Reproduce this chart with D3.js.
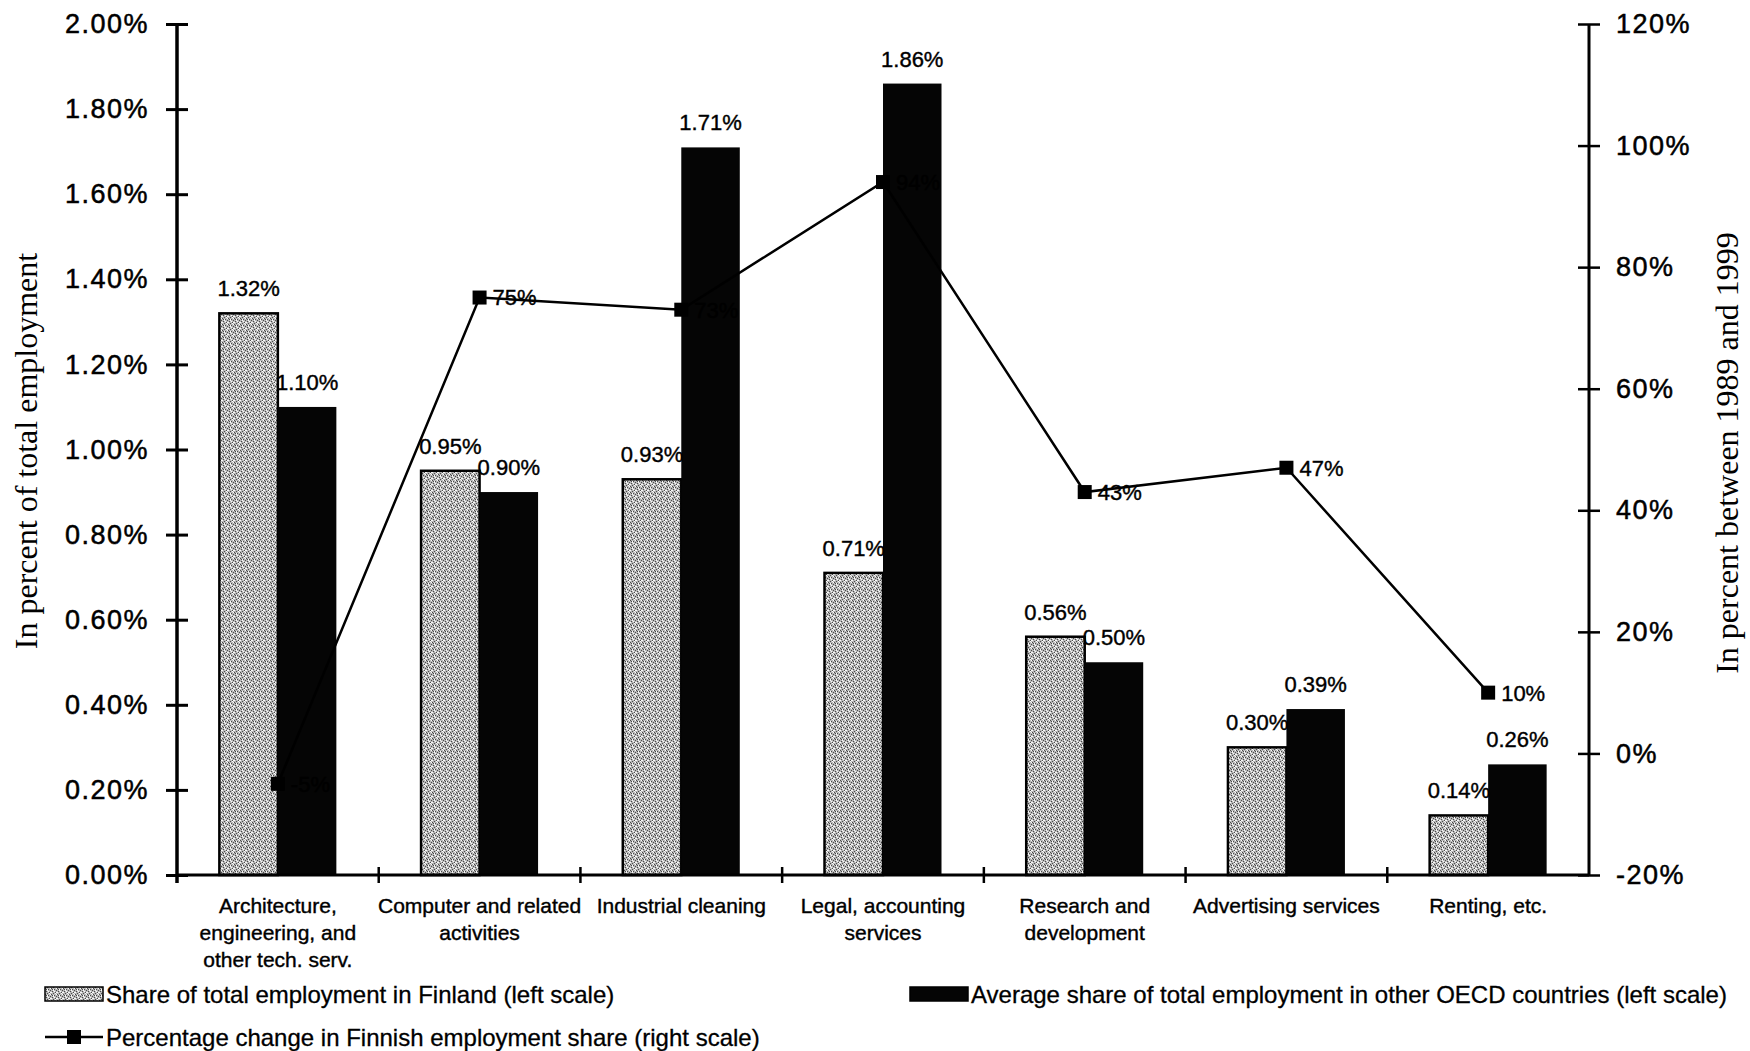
<!DOCTYPE html>
<html>
<head>
<meta charset="utf-8">
<script src="https://cdn.jsdelivr.net/npm/d3@7"></script>
<style>
  body { margin: 0; background: #fff; }
</style>
</head>
<body>
<div id="chart"></div>
<script>
// categories (line breaks marked with |)
var categories = ["Architecture,|engineering, and|other tech. serv.", "Computer and related|activities",
    "Industrial cleaning", "Legal, accounting|services", "Research and|development",
    "Advertising services", "Renting, etc."];
var finland = [1.32, 0.95, 0.93, 0.71, 0.56, 0.30, 0.14];
var oecd = [1.10, 0.90, 1.71, 1.86, 0.50, 0.39, 0.26];
var change = [-5, 75, 73, 94, 43, 47, 10];
var leftTicks = [0, 0.2, 0.4, 0.6, 0.8, 1.0, 1.2, 1.4, 1.6, 1.8, 2.0];
var rightTicks = [-20, 0, 20, 40, 60, 80, 100, 120];

var width = 1750, height = 1051;
var plot = {left: 177, right: 1589, top: 24, bottom: 875};

var svg = d3.select('#chart').append('svg')
    .attr('width', width)
    .attr('height', height)
    .style('font-family', '"Liberation Sans", Arial, sans-serif');

// stippled grey fill for the Finland bars
var pat = svg.append('defs').append('pattern')
    .attr('id', 'stipple')
    .attr('patternUnits', 'userSpaceOnUse')
    .attr('width', 6).attr('height', 6);
pat.append('rect').attr('width', 6).attr('height', 6).attr('fill', '#b8b8b8');
[[0,0],[3,1],[1,3],[4,4],[2,5],[5,2],[1,1]].forEach(function (p) {
    pat.append('rect').attr('x', p[0]).attr('y', p[1]).attr('width', 1).attr('height', 1).attr('fill', '#4a4a4a');
});
[[2,1],[5,0],[0,4],[3,3],[4,5],[2,2],[5,4]].forEach(function (p) {
    pat.append('rect').attr('x', p[0]).attr('y', p[1]).attr('width', 1).attr('height', 1).attr('fill', '#fafafa');
});

var x = d3.scaleBand().domain(d3.range(categories.length)).range([plot.left, plot.right]);
var yL = d3.scaleLinear().domain([0, 2]).range([plot.bottom, plot.top]);
var yR = d3.scaleLinear().domain([-20, 120]).range([plot.bottom, plot.top]);
var bw = x.bandwidth() * 0.29;
var cx = function (i) { return x(i) + x.bandwidth() / 2; };
var fmt = function (v) { return d3.format('.2f')(v) + '%'; };

// bars
svg.selectAll('.fin').data(finland).enter().append('rect')
    .attr('class', 'fin')
    .attr('x', function (d, i) { return cx(i) - bw; })
    .attr('y', function (d) { return yL(d); })
    .attr('width', bw)
    .attr('height', function (d) { return yL(0) - yL(d); })
    .attr('fill', 'url(#stipple)')
    .attr('stroke', '#000')
    .attr('stroke-width', 2.5);

svg.selectAll('.oecd').data(oecd).enter().append('rect')
    .attr('class', 'oecd')
    .attr('x', function (d, i) { return cx(i); })
    .attr('y', function (d) { return yL(d); })
    .attr('width', bw)
    .attr('height', function (d) { return yL(0) - yL(d); })
    .attr('fill', '#050505');

// bar labels
svg.selectAll('.finlab').data(finland).enter().append('text')
    .attr('x', function (d, i) { return cx(i) - bw / 2; })
    .attr('y', function (d) { return yL(d) - 17; })
    .attr('text-anchor', 'middle')
    .attr('font-size', 22)
    .attr('stroke', '#000').attr('stroke-width', 0.4)
    .text(fmt);

svg.selectAll('.oecdlab').data(oecd).enter().append('text')
    .attr('x', function (d, i) { return cx(i) + bw / 2; })
    .attr('y', function (d) { return yL(d) - 17; })
    .attr('text-anchor', 'middle')
    .attr('font-size', 22)
    .attr('stroke', '#000').attr('stroke-width', 0.4)
    .text(fmt);

// left axis
var axL = svg.append('g').attr('transform', 'translate(' + plot.left + ',0)')
    .call(d3.axisLeft(yL).tickValues(leftTicks).tickSize(11).tickPadding(17).tickFormat(fmt));
axL.select('.domain').remove();
axL.selectAll('.tick line').attr('x2', 11).attr('x1', -11).attr('stroke-width', 3);
axL.selectAll('.tick text').attr('font-size', 27).attr('letter-spacing', '1.5px')
    .attr('font-family', '"Liberation Sans", Arial, sans-serif').attr('fill', '#000')
    .attr('stroke', '#000').attr('stroke-width', 0.5);
svg.append('line').attr('x1', plot.left).attr('x2', plot.left).attr('y1', plot.top).attr('y2', plot.bottom + 8)
    .attr('stroke', '#000').attr('stroke-width', 3.5);

// right axis
var axR = svg.append('g').attr('transform', 'translate(' + plot.right + ',0)')
    .call(d3.axisRight(yR).tickValues(rightTicks).tickSize(11).tickPadding(16).tickFormat(function (d) { return d + '%'; }));
axR.select('.domain').remove();
axR.selectAll('.tick line').attr('x1', -11).attr('x2', 11).attr('stroke-width', 2.5);
axR.selectAll('.tick text').attr('font-size', 27).attr('letter-spacing', '1.5px')
    .attr('font-family', '"Liberation Sans", Arial, sans-serif').attr('fill', '#000')
    .attr('stroke', '#000').attr('stroke-width', 0.5);
svg.append('line').attr('x1', plot.right).attr('x2', plot.right).attr('y1', plot.top).attr('y2', plot.bottom)
    .attr('stroke', '#000').attr('stroke-width', 3);

// x axis with ticks between categories
svg.append('line').attr('x1', plot.left).attr('x2', plot.right).attr('y1', plot.bottom).attr('y2', plot.bottom)
    .attr('stroke', '#000').attr('stroke-width', 3);
svg.selectAll('.xtick').data(d3.range(1, categories.length)).enter().append('line')
    .attr('x1', function (i) { return x(i); })
    .attr('x2', function (i) { return x(i); })
    .attr('y1', plot.bottom - 8).attr('y2', plot.bottom + 8)
    .attr('stroke', '#000').attr('stroke-width', 2.5);

// category labels
var cat = svg.selectAll('.cat').data(categories).enter().append('text')
    .attr('text-anchor', 'middle')
    .attr('font-size', 21)
    .attr('fill', '#000')
    .attr('stroke', '#000').attr('stroke-width', 0.4);
cat.each(function (d, i) {
    d3.select(this).selectAll('tspan').data(d.split('|')).enter().append('tspan')
        .attr('x', cx(i))
        .attr('y', function (t, j) { return 913 + j * 27; })
        .text(function (t) { return t; });
});

// change line (right scale)
var line = d3.line().x(function (d, i) { return cx(i); }).y(function (d) { return yR(d); });
svg.append('path').datum(change)
    .attr('d', line)
    .attr('fill', 'none')
    .attr('stroke', '#000')
    .attr('stroke-width', 2.5);
svg.selectAll('.mark').data(change).enter().append('rect')
    .attr('x', function (d, i) { return cx(i) - 7; })
    .attr('y', function (d) { return yR(d) - 7; })
    .attr('width', 14).attr('height', 14)
    .attr('fill', '#000');
svg.selectAll('.chglab').data(change).enter().append('text')
    .attr('x', function (d, i) { return cx(i) + 13; })
    .attr('y', function (d) { return yR(d); })
    .attr('dy', '0.36em')
    .attr('font-size', 22)
    .attr('stroke', '#000').attr('stroke-width', 0.4)
    .text(function (d) { return d + '%'; });

// axis titles
svg.append('text')
    .attr('transform', 'translate(37,451) rotate(-90)')
    .attr('text-anchor', 'middle')
    .style('font-family', '"Liberation Serif", "Times New Roman", serif')
    .attr('font-size', 32)
    .text('In percent of total employment');
svg.append('text')
    .attr('transform', 'translate(1738,453) rotate(-90)')
    .attr('text-anchor', 'middle')
    .style('font-family', '"Liberation Serif", "Times New Roman", serif')
    .attr('font-size', 32)
    .text('In percent between 1989 and 1999');

// legend
var legendData = [
    {name: 'Share of total employment in Finland (left scale)', type: 'fin', x: 45, y: 994},
    {name: 'Average share of total employment in other OECD countries (left scale)', type: 'oecd', x: 910, y: 994},
    {name: 'Percentage change in Finnish employment share (right scale)', type: 'line', x: 45, y: 1037}
];
var legend = svg.selectAll('.legend').data(legendData).enter().append('g')
    .attr('class', 'legend')
    .attr('transform', function (d) { return 'translate(' + d.x + ',' + d.y + ')'; });
legend.filter(function (d) { return d.type !== 'line'; }).append('rect')
    .attr('x', 0).attr('y', -7).attr('width', 58).attr('height', 14)
    .attr('fill', function (d) { return d.type === 'fin' ? 'url(#stipple)' : '#050505'; })
    .attr('stroke', '#000').attr('stroke-width', 1.5);
var lineLeg = legend.filter(function (d) { return d.type === 'line'; });
lineLeg.append('line').attr('x1', 0).attr('x2', 58).attr('y1', 0).attr('y2', 0)
    .attr('stroke', '#000').attr('stroke-width', 2.5);
lineLeg.append('rect').attr('x', 22).attr('y', -7).attr('width', 14).attr('height', 14).attr('fill', '#000');
legend.append('text')
    .attr('x', 61)
    .attr('y', 0)
    .attr('dy', '0.36em')
    .attr('font-size', 24)
    .attr('stroke', '#000').attr('stroke-width', 0.3)
    .text(function (d) { return d.name; });
</script>
</body>
</html>
